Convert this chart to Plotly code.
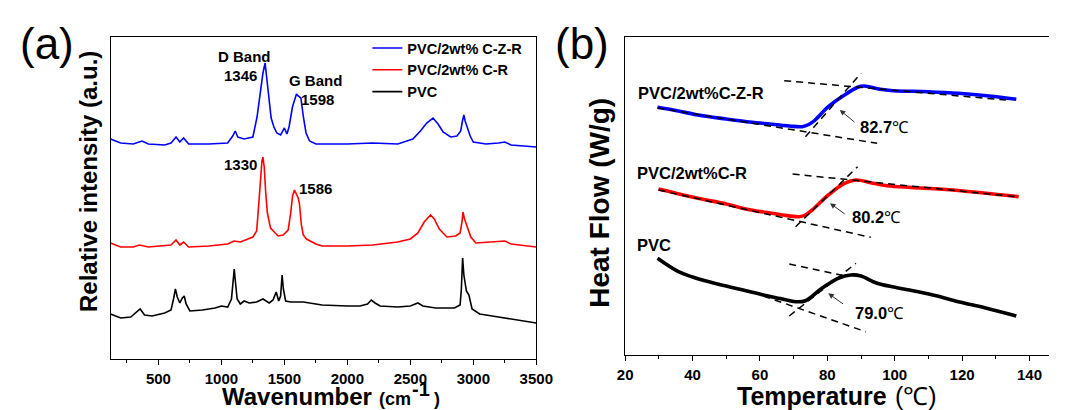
import plotly.graph_objects as go

# ---------------- (a) Raman spectra (arbitrary intensity units) ----------------
wn_czr = [120, 200, 300, 370, 420, 550, 600, 640, 670, 700, 740, 900, 1050, 1090, 1110, 1130, 1180, 1250,
          1283, 1309, 1330, 1347, 1365, 1377, 1395, 1417, 1440, 1470, 1500, 1520, 1537, 1564, 1596, 1610,
          1631, 1651, 1672, 1700, 1750, 2000, 2200, 2400, 2520, 2580, 2630, 2680, 2720, 2760, 2820, 2870,
          2900, 2912, 2925, 2935, 2955, 2975, 3000, 3100, 3200, 3250, 3300, 3400, 3500]
int_czr = [220, 216, 215, 218, 215, 214, 216, 222, 217, 221, 215, 215, 216, 223, 228, 222, 220, 222,
           242, 266, 286, 296, 277, 259, 241, 232, 226, 224, 231, 225, 232, 252, 265, 263,
           261, 242, 226, 218, 215, 215, 216, 215, 220, 228, 236, 241, 235, 227, 222, 223,
           228, 237, 244, 238, 231, 223, 217, 215, 216, 217, 214, 213, 212]

wn_cr = [120, 200, 300, 350, 420, 560, 600, 640, 670, 700, 740, 900, 1050, 1100, 1150, 1250, 1280, 1295,
         1310, 1322, 1330, 1340, 1352, 1365, 1390, 1417, 1450, 1490, 1530, 1550, 1565, 1580, 1595, 1610,
         1620, 1635, 1650, 1675, 1750, 1800, 2000, 2200, 2400, 2500, 2560, 2610, 2660, 2690, 2730, 2790,
         2860, 2895, 2910, 2918, 2930, 2955, 2980, 3020, 3200, 3250, 3300, 3500]
int_cr = [116, 112, 112, 114, 112, 113, 114, 119, 114, 117, 112, 113, 115, 118, 117, 122, 128, 152,
          181, 198, 202, 192, 166, 146, 131, 127, 123, 124, 129, 146, 163, 169, 165, 161,
          155, 134, 124, 120, 115, 113, 113, 114, 117, 120, 126, 137, 144, 140, 130, 122,
          123, 126, 137, 147, 140, 131, 122, 116, 117, 118, 115, 112]

wn_pvc = [120, 200, 280, 330, 355, 390, 450, 550, 600, 620, 635, 650, 670, 690, 705, 720, 750, 850, 950,
          1000, 1050, 1080, 1095, 1102, 1110, 1125, 1150, 1180, 1220, 1280, 1330, 1380, 1410, 1435, 1455,
          1470, 1482, 1492, 1510, 1550, 1650, 1800, 2000, 2100, 2160, 2190, 2220, 2260, 2400, 2500, 2560,
          2600, 2700, 2850, 2895, 2905, 2915, 2925, 2945, 2965, 2990, 3050, 3200, 3350, 3500]
int_pvc = [45, 41, 42, 47, 50, 44, 43, 46, 49, 60, 70, 62, 56, 61, 63, 55, 48, 49, 51,
           53, 52, 60, 81, 90, 79, 60, 55, 58, 56, 57, 60, 56, 59, 67, 58,
           63, 84, 70, 58, 57, 57, 54, 53, 53, 55, 59, 56, 53, 52, 53, 56,
           53, 51, 51, 54, 70, 101, 84, 68, 64, 50, 45, 42, 39, 36]

names_a = ["PVC/2wt% C-Z-R", "PVC/2wt% C-R", "PVC"]
colors = ["#0000FF", "#FF0000", "#000000"]

# peak labels (a): text, wavenumber, intensity
peak_text = ["D Band", "1346", "G Band", "1598", "1330", "1586"]
peak_wn = [1186, 1152, 1751, 1766, 1152, 1747]
peak_int = [302, 283, 278, 259, 195, 171]

# ---------------- (b) DSC curves (arbitrary heat-flow units, offset) ----------------
T_czr = [29.6, 35, 41.6, 50, 56.1, 62, 68.7, 72.5, 74.5, 76.4, 80.3, 85.1, 89, 90.9, 95.7, 99.6, 110, 118.9, 128, 136.1]
hf_czr = [247.7, 244.5, 240, 236, 233.3, 231.3, 229, 228.3, 230.5, 235, 248.3, 260, 267.7, 269, 265.7, 264.3, 263.3, 261.7, 259, 255.7]

T_cr = [29.9, 41.6, 50, 56.1, 62, 66.8, 71.6, 73.5, 75.5, 80.3, 85.1, 88.5, 92.9, 97.7, 105, 114.1, 125, 136.8]
hf_cr = [166, 156.7, 151, 145.7, 142.5, 140, 138.3, 140, 145, 160, 171.7, 175, 172.3, 169.3, 167.5, 165.7, 162.5, 158.3]

T_pvc = [29.6, 35.8, 40, 46.5, 55, 61, 66, 70.6, 73.5, 78.4, 83.2, 87, 90, 94.8, 104.4, 112, 118.9, 127, 136.1]
hf_pvc = [96.7, 83.3, 78, 71.7, 65, 60, 56.5, 53.3, 54.3, 66.7, 76.7, 80, 79, 71.7, 65, 59.5, 53.3, 47, 39]

# tangent construction lines: (T0, T1, y0, y1)
tangents = [
    (67.2, 133, 274.3, 255), (29.6, 94.8, 247, 211.7), (73.5, 90, 218.3, 281.7),
    (69.7, 135.9, 181, 158.3), (29.9, 92.9, 165, 117.7), (70.6, 89, 128.3, 188.3),
    (68.7, 86, 91, 78.5), (61, 91.4, 59, 23.3), (68.7, 88.5, 39, 91.7),
]
curve_names = ["PVC/2wt%C-Z-R", "PVC/2wt%C-R", "PVC"]
name_T = [23.2, 22.8, 22.8]
name_y = [262, 182, 110]
tg_values = ["82.7", "80.2", "79.0"]
tg_text_T = [89, 86.7, 87.5]
tg_text_y = [228, 138, 42]
arrow_head = [(83.7, 245), (80.8, 151.7), (80.3, 61.7)]
arrow_tail = [(88.5, 231.7), (85.6, 140), (85.1, 50)]

fig = go.Figure()

for wn, it, nm, c in zip([wn_czr, wn_cr, wn_pvc], [int_czr, int_cr, int_pvc], names_a, colors):
    fig.add_trace(go.Scatter(x=wn, y=it, mode="lines", name=nm,
                             line=dict(color=c, width=1.6), xaxis="x", yaxis="y"))

for T, hf, c in zip([T_czr, T_cr, T_pvc], [hf_czr, hf_cr, hf_pvc], colors):
    fig.add_trace(go.Scatter(x=T, y=hf, mode="lines", showlegend=False,
                             line=dict(color=c, width=3.6, shape="spline"), xaxis="x2", yaxis="y2"))

for (t0, t1, y0, y1) in tangents:
    fig.add_trace(go.Scatter(x=[t0, t1], y=[y0, y1], mode="lines", showlegend=False,
                             line=dict(color="black", width=1.5, dash="7px,5px"), xaxis="x2", yaxis="y2"))

ann = []
for t, x, y in zip(peak_text, peak_wn, peak_int):
    ann.append(dict(x=x, y=y, xref="x", yref="y", text="<b>%s</b>" % t, showarrow=False,
                    xanchor="center", yanchor="middle", font=dict(size=15, color="black")))
for t, x, y in zip(curve_names, name_T, name_y):
    ann.append(dict(x=x, y=y, xref="x2", yref="y2", text="<b>%s</b>" % t, showarrow=False,
                    xanchor="left", yanchor="middle", font=dict(size=16.5, color="black")))
for t, x, y in zip(tg_values, tg_text_T, tg_text_y):
    ann.append(dict(x=x, y=y, xref="x2", yref="y2", text="<b>%s</b>℃" % t, showarrow=False,
                    xanchor="left", yanchor="middle", font=dict(size=16.5, color="black")))
for (hx, hy), (tx, ty) in zip(arrow_head, arrow_tail):
    ann.append(dict(x=hx, y=hy, ax=tx, ay=ty, xref="x2", yref="y2", axref="x2", ayref="y2",
                    text="", showarrow=True, arrowhead=2, arrowsize=1.1, arrowwidth=1, arrowcolor="#333"))


def P(px, py, text, size, xa="center", angle=0):
    return dict(x=px / 1066, y=1 - py / 410, xref="paper", yref="paper", text=text, showarrow=False,
                xanchor=xa, yanchor="middle", textangle=angle, font=dict(size=size, color="black"))


ann += [
    P(40, 44, "(a)", 44),
    P(588, 44, "(b)", 44),
    P(83, 182, "<b>Relative intensity (a.u.)</b>", 24, angle=-90),
    P(605, 203, "<b>Heat Flow (W/g)</b>", 28, angle=-90),
    P(375, 396, "<b>Wavenumber</b>", 24, xa="right"),
    P(378, 399, "<b>(cm</b>", 18, xa="left"),
    P(412, 389, "<b>-1</b>", 20, xa="left"),
    P(434, 399, "<b>)</b>", 18, xa="left"),
    P(902, 396, "<b>Temperature</b>", 25, xa="right"),
    P(906, 396, "(℃)", 25, xa="left"),
]

axis_common = dict(showline=True, linecolor="black", linewidth=1, showgrid=False, zeroline=False,
                   ticks="outside", ticklen=5, tickcolor="black", ticklabelstandoff=1,
                   tickfont=dict(size=15, color="black", weight="bold"))

fig.update_layout(
    width=1066, height=410,
    margin=dict(l=0, r=0, t=0, b=0),
    paper_bgcolor="white", plot_bgcolor="white",
    font=dict(family="Liberation Sans, Arial, sans-serif", color="black"),
    xaxis=dict(domain=[105 / 1066, 541 / 1066], range=[120, 3500], dtick=500, tick0=0, mirror=True,
               minor=dict(ticks="outside", ticklen=3, dtick=250, tickcolor="black"), anchor="y", **axis_common),
    yaxis=dict(domain=[1 - 359 / 410, 1 - 37 / 410], range=[0, 322], showline=True, linecolor="black",
               linewidth=1, mirror=True, showticklabels=False, ticks="", showgrid=False, zeroline=False,
               anchor="x"),
    xaxis2=dict(domain=[632 / 1066, 1], range=[20, 145.8], dtick=20, tick0=0, mirror=True,
                minor=dict(ticks="outside", ticklen=3, dtick=10, tickcolor="black"), anchor="y2", **axis_common),
    yaxis2=dict(domain=[1 - 355 / 410, 1 - 37 / 410], range=[0, 318], showline=True, linecolor="black",
                linewidth=1, mirror=False, showticklabels=False, ticks="", showgrid=False, zeroline=False,
                anchor="x2"),
    legend=dict(x=368 / 1066, y=1 - 32 / 410, xanchor="left", yanchor="top", bgcolor="rgba(0,0,0,0)",
                font=dict(size=14.5, color="black", weight="bold"), tracegroupgap=0),
    annotations=ann,
)

fig.write_html("out.html", config={"displayModeBar": False},
               post_script="document.body.style.margin='0px';")
